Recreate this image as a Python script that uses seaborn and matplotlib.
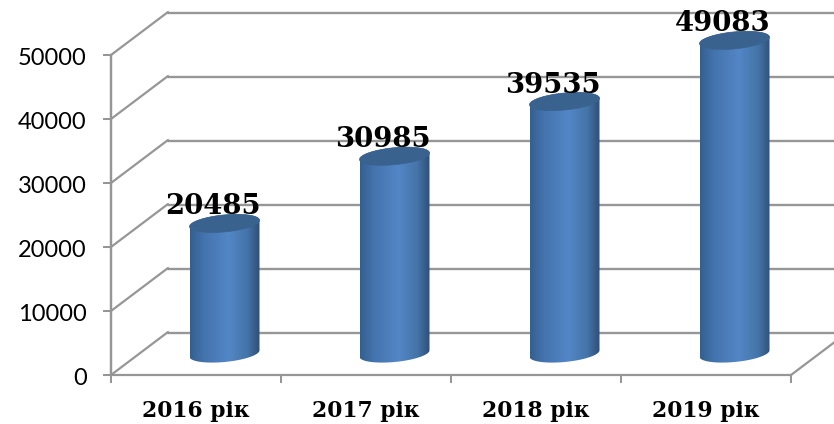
import numpy as np
import matplotlib
matplotlib.use("Agg")
import matplotlib.pyplot as plt
from matplotlib.patches import PathPatch
from matplotlib.path import Path
from matplotlib.transforms import Affine2D, IdentityTransform
from matplotlib.colors import LinearSegmentedColormap
import seaborn as sns

anos = ["2016 рік", "2017 рік", "2018 рік", "2019 рік"]
valores = [20485, 30985, 39535, 49083]
marcas_y = [0, 10000, 20000, 30000, 40000, 50000]

sns.set_style("white")
plt.rcParams["font.family"] = ["Lato", "DejaVu Sans"]

CINZA = "#969696"
DX, DY = 57, 43  # profundidade da parede em pixels

fig = plt.figure(figsize=(8.34, 4.24), dpi=100)
ax = fig.add_axes([111 / 834, 1 - 375 / 424, 680 / 834, 320 / 424])

sns.barplot(x=anos, y=valores, ax=ax, width=70 / 170, color="#4f81bd")
ax.set_xlim(-0.5, 3.5)
ax.set_ylim(0, 50000)
ax.set_yticks(marcas_y)
ax.patch.set_visible(False)

# parede de trás e linhas diagonais
fundo = ax.transData + Affine2D().translate(DX, DY - 0.5)
for m in marcas_y:
    ax.plot([-0.5, 3.5 + 0.2], [m, m], color=CINZA, lw=1.7, transform=fundo,
            clip_on=False, zorder=1)
    x0, y0 = ax.transData.transform((-0.5, m))
    ax.plot([x0, x0 + DX], [y0, y0 + DY], color=CINZA, lw=1.6,
            transform=IdentityTransform(), clip_on=False, zorder=1)
x1, y1 = ax.transData.transform((3.5, 0))
ax.plot([x1, x1 + DX], [y1, y1 + DY], color=CINZA, lw=1.6,
        transform=IdentityTransform(), clip_on=False, zorder=1)
ax.axvline(-0.5, color=CINZA, lw=1.6, clip_on=False, zorder=2)

# gradiente horizontal do cilindro
cores = LinearSegmentedColormap.from_list(
    "cilindro", [(0, "#34608f"), (0.2, "#4474ae"), (0.55, "#5386c6"),
                 (0.82, "#4474a8"), (1, "#2f4f76")])
gradiente = np.linspace(0, 1, 256).reshape(1, -1)

t_baixo = np.linspace(np.pi, 2 * np.pi, 60)
t_cima = np.linspace(0, np.pi, 60)
t_todo = np.linspace(0, 2 * np.pi, 120)


def elipse(cx, cy, a, t):
    # elipse inclinada da base e do topo
    return np.column_stack([cx + a * np.cos(t),
                            cy + 3.2 * np.cos(t) + 8.5 * np.sin(t)])


def cilindro(barra):
    xc = barra.get_x() + barra.get_width() / 2
    xe = ax.transData.transform((barra.get_x(), 0))[0]
    cx, cy0 = ax.transData.transform((xc, 0))
    _, cy1 = ax.transData.transform((xc, barra.get_height()))
    a = cx - xe
    cx += DX / 2
    cy0 += DY / 2
    cy1 += DY / 2 - 1

    corpo = np.vstack([elipse(cx, cy0, a, t_baixo), elipse(cx, cy1, a, t_cima)])
    recorte = PathPatch(Path(np.vstack([corpo, corpo[:1]])), transform=IdentityTransform(),
                        facecolor="none", edgecolor="none")
    ax.add_patch(recorte)
    img = ax.imshow(gradiente, cmap=cores, aspect="auto", transform=IdentityTransform(),
                    extent=(cx - a, cx + a, cy0 - 14, cy1 + 14), zorder=3)
    img.set_clip_box(fig.bbox)
    img.set_clip_path(recorte)
    topo = PathPatch(Path(elipse(cx, cy1, a, t_todo)), transform=IdentityTransform(),
                     facecolor="#3a628f", edgecolor="#3a628f", lw=0.5, zorder=4, clip_on=False)
    ax.add_patch(topo)


for barra in list(ax.patches):
    if barra.get_height() in valores:
        cilindro(barra)
        barra.set_visible(False)

ax.set_xlim(-0.5, 3.5)
ax.set_ylim(0, 50000)

for i, v in enumerate(valores):
    ax.annotate(str(v), xy=(i, v), xytext=(12.2, 21.2), textcoords="offset points",
                ha="center", va="baseline", family="DejaVu Serif", weight="bold",
                fontsize=19.8, color="black", zorder=6, annotation_clip=False)

# eixos
for lado in ["top", "right"]:
    ax.spines[lado].set_visible(False)
for lado in ["left", "bottom"]:
    ax.spines[lado].set_visible(True)
    ax.spines[lado].set_color(CINZA)
    ax.spines[lado].set_linewidth(1.6)
    ax.spines[lado].set_zorder(2)

ax.set_xticks(np.arange(-0.5, 4, 1), minor=True)
ax.tick_params(axis="x", which="minor", bottom=True, length=6, width=1.45, color=CINZA)
ax.tick_params(axis="x", which="major", bottom=False, length=0, pad=18)
ax.tick_params(axis="y", length=5.5, width=1.45, color=CINZA, pad=12, labelsize=17,
               left=True, labelcolor="black", labelfontfamily="Lato")
ax.set_xticks(range(4))
ax.set_xticklabels(anos, family="DejaVu Serif", weight="bold", fontsize=15.7, color="black")
ax.set_xlabel("")
ax.set_ylabel("")

# rótulos do eixo y um pouco mais baixos, como no original
desce = Affine2D().translate(0, -1.5)
for rotulo in ax.get_yticklabels():
    rotulo.set_transform(rotulo.get_transform() + desce)

fig.savefig("out.png", dpi=100)
